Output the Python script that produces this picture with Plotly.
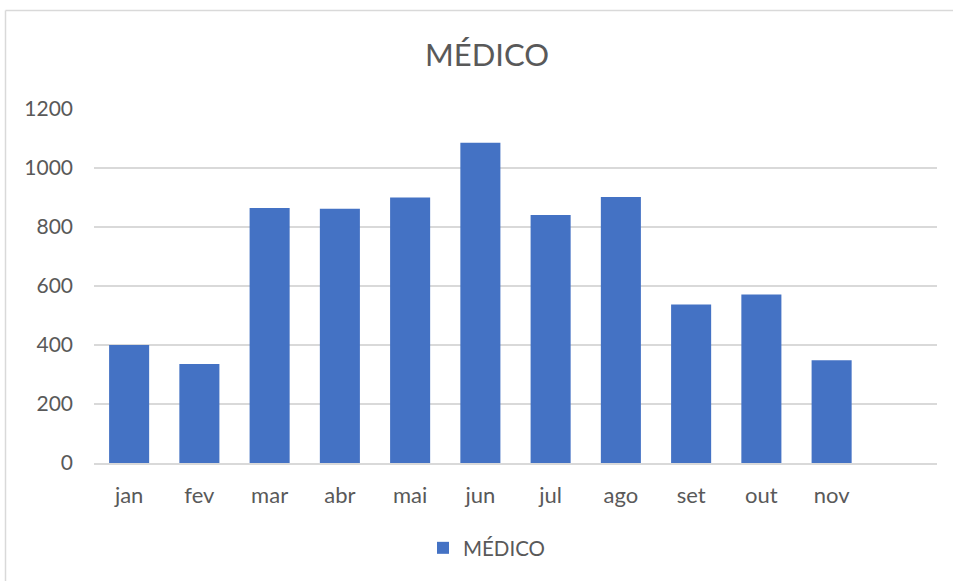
import plotly.graph_objects as go

months = ["jan", "fev", "mar", "abr", "mai", "jun", "jul", "ago", "set", "out", "nov", " "]
medico = [400, 336, 864, 862, 900, 1086, 841, 902, 537, 571, 348, None]
y_ticks = [0, 200, 400, 600, 800, 1000, 1200]

W, H = 953, 581
L, R, T, B = 94, 16, 109, 118
pw, ph = W - L - R, H - T - B

def px_x(x):
    return (x - L) / pw

def px_y(y):
    return (H - B - y) / ph

fig = go.Figure()
fig.add_trace(go.Bar(
    x=months, y=medico, name="MÉDICO",
    marker=dict(color="#4472C4", line=dict(width=0)),
))

fig.update_layout(
    width=W, height=H,
    margin=dict(l=L, r=R, t=T, b=B),
    paper_bgcolor="white", plot_bgcolor="white",
    font=dict(family="Lato, Open Sans, sans-serif", color="#595959", size=21),
    bargap=0.43,
    title=dict(text="MÉDICO", x=px_x(487), xref="paper", xanchor="center",
               y=1 - 55 / H, yanchor="middle", yref="container",
               font=dict(size=31, color="#595959")),
    showlegend=True,
    legend=dict(orientation="h", x=px_x(487), xanchor="center",
                y=px_y(548), yanchor="middle", font=dict(size=20.5, color="#595959")),
    xaxis=dict(showgrid=False, showline=True, linecolor="#d9d9d9", linewidth=1.5,
               ticks="", ticklabelstandoff=12, tickfont=dict(size=22)),
    yaxis=dict(range=[0, 1200], tickvals=y_ticks, showgrid=True, gridcolor="#d9d9d9",
               gridwidth=1.5, zeroline=False, showline=False, ticks="",
               ticklabelstandoff=20, tickfont=dict(size=21)),
    shapes=[
        dict(type="line", xref="paper", yref="paper", x0=px_x(5.5), x1=px_x(953),
             y0=px_y(10.5), y1=px_y(10.5), line=dict(color="#d9d9d9", width=1.5)),
        dict(type="line", xref="paper", yref="paper", x0=px_x(5.5), x1=px_x(5.5),
             y0=px_y(10.5), y1=px_y(581), line=dict(color="#d9d9d9", width=1.5)),
    ],
)

fig.write_html("out.html", config={"displayModeBar": False},
               post_script="document.body.style.margin='0';document.body.style.padding='0';")
